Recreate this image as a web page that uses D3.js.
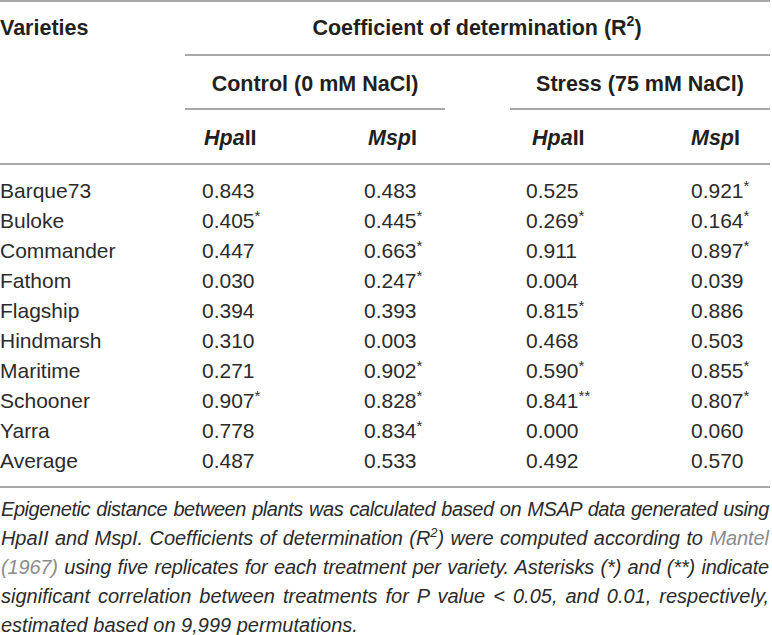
<!doctype html>
<html>
  <head>
    <meta charset="utf-8">
    <script src="https://cdn.jsdelivr.net/npm/d3@7"></script>
    <style>
      body { margin: 0; background: #fff; }
      svg { display: block; }
      .rule { stroke: #a8a8a8; stroke-width: 1.5; shape-rendering: crispEdges; }
      .head { font-family: "Liberation Sans", Arial, sans-serif; font-weight: bold; font-size: 21.5px; fill: #231f20; }
      .cell { font-family: "Liberation Sans", Arial, sans-serif; font-size: 21px; fill: #2b2b2b; }
      .note { font-family: "Liberation Sans", Arial, sans-serif; font-style: italic; font-size: 20px; fill: #2b2b2b; }
    </style>
  </head>
  <body>
    <script>
    // table data
    var varieties = ['Barque73', 'Buloke', 'Commander', 'Fathom', 'Flagship',
                     'Hindmarsh', 'Maritime', 'Schooner', 'Yarra', 'Average'];

    var controlHpa = [0.843, 0.405, 0.447, 0.030, 0.394, 0.310, 0.271, 0.907, 0.778, 0.487];
    var controlHpaSig = ['', '*', '', '', '', '', '', '*', '', ''];

    var controlMsp = [0.483, 0.445, 0.663, 0.247, 0.393, 0.003, 0.902, 0.828, 0.834, 0.533];
    var controlMspSig = ['', '*', '*', '*', '', '', '*', '*', '*', ''];

    var stressHpa = [0.525, 0.269, 0.911, 0.004, 0.815, 0.468, 0.590, 0.841, 0.000, 0.492];
    var stressHpaSig = ['', '*', '', '', '*', '', '*', '**', '', ''];

    var stressMsp = [0.921, 0.164, 0.897, 0.039, 0.886, 0.503, 0.855, 0.807, 0.060, 0.570];
    var stressMspSig = ['*', '*', '*', '', '', '', '*', '*', '', ''];

    var enzymes = ['Hpa', 'Msp'];
    var enzymeSuffix = ['II', 'I'];
    var treatments = ['Control (0 mM NaCl)', 'Stress (75 mM NaCl)'];

    var width = 772;
    var height = 635;

    var svg = d3.select('body')
              .append('svg')
              .attr('width', width)
              .attr('height', height);

    var fmt = d3.format('.3f');

    var columns = [
      {key: 'ch', values: controlHpa, sig: controlHpaSig},
      {key: 'cm', values: controlMsp, sig: controlMspSig},
      {key: 'sh', values: stressHpa, sig: stressHpaSig},
      {key: 'sm', values: stressMsp, sig: stressMspSig}
    ];

    // column and row positions
    var x = d3.scaleOrdinal()
              .domain(['ch', 'cm', 'sh', 'sm'])
              .range([202, 364, 526, 691]);

    var xHead = d3.scaleOrdinal()
              .domain(['ch', 'cm', 'sh', 'sm'])
              .range([204, 368, 532, 691]);

    var y = d3.scaleLinear()
              .domain([0, varieties.length - 1])
              .range([198, 468]);

    // rules
    var rules = [
      {x1: 0, x2: 770, y: 1},
      {x1: 185, x2: 770, y: 55},
      {x1: 185, x2: 445, y: 109},
      {x1: 510, x2: 770, y: 109},
      {x1: 0, x2: 770, y: 164},
      {x1: 0, x2: 770, y: 487}
    ];

    svg.selectAll('.rule')
       .data(rules)
       .enter()
       .append('line')
       .attr('class', 'rule')
       .attr('x1', function(d) { return d.x1; })
       .attr('x2', function(d) { return d.x2; })
       .attr('y1', function(d) { return d.y; })
       .attr('y2', function(d) { return d.y; });

    // header
    svg.append('text')
       .attr('class', 'head')
       .attr('x', 0)
       .attr('y', 35)
       .text('Varieties');

    var coef = svg.append('text')
       .attr('class', 'head')
       .attr('x', 477)
       .attr('y', 35)
       .attr('text-anchor', 'middle');
    coef.append('tspan').text('Coefficient of determination (R');
    coef.append('tspan').attr('font-size', 14).attr('dy', -9).text('2');
    coef.append('tspan').attr('dy', 9).text(')');

    svg.selectAll('.treat')
       .data(treatments)
       .enter()
       .append('text')
       .attr('class', 'head treat')
       .attr('x', function(d, i) { return i === 0 ? 315 : 640; })
       .attr('y', 91)
       .attr('text-anchor', 'middle')
       .text(function(d) { return d; });

    var enz = svg.selectAll('.enz')
       .data(columns)
       .enter()
       .append('text')
       .attr('class', 'head enz')
       .attr('x', function(d) { return xHead(d.key); })
       .attr('y', 145);
    enz.append('tspan')
       .attr('font-style', 'italic')
       .text(function(d, i) { return enzymes[i % 2]; });
    enz.append('tspan')
       .text(function(d, i) { return enzymeSuffix[i % 2]; });

    // body rows
    svg.selectAll('.variety')
       .data(varieties)
       .enter()
       .append('text')
       .attr('class', 'cell variety')
       .attr('x', 0)
       .attr('y', function(d, i) { return y(i); })
       .text(function(d) { return d; });

    columns.forEach(function(col) {
      var cells = svg.selectAll('.v-' + col.key)
         .data(col.values)
         .enter()
         .append('text')
         .attr('class', 'cell v-' + col.key)
         .attr('x', x(col.key))
         .attr('y', function(d, i) { return y(i); });
      cells.append('tspan')
         .text(function(d) { return fmt(d); });
      cells.append('tspan')
         .attr('font-size', 15)
         .attr('dy', -7)
         .text(function(d, i) { return col.sig[i]; });
    });

    // footnote, justified lines
    var noteLines = [
      [{t: 'Epigenetic distance between plants was calculated based on MSAP data generated using'}],
      [{t: 'HpaII and MspI. Coefficients of determination (R'}, {t: '2', sup: true}, {t: ') were computed according to ', down: true}, {t: 'Mantel', link: true}],
      [{t: '(1967)', link: true}, {t: ' using five replicates for each treatment per variety. Asterisks (*) and (**) indicate'}],
      [{t: 'significant correlation between treatments for P value < 0.05, and 0.01, respectively,'}],
      [{t: 'estimated based on 9,999 permutations.'}]
    ];

    var noteY = d3.scaleLinear().domain([0, 4]).range([516, 632]);
    var noteWidth = 768;

    noteLines.forEach(function(parts, i) {
      var line = svg.append('text')
         .attr('class', 'note')
         .attr('x', 1)
         .attr('y', noteY(i));
      parts.forEach(function(p) {
        var ts = line.append('tspan').text(p.t);
        if (p.sup) ts.attr('font-size', 13).attr('dy', -8);
        if (p.down) ts.attr('dy', 8);
        if (p.link) ts.style('fill', '#8c8c8c');
      });
      if (i < noteLines.length - 1) {
        var full = parts.map(function(p) { return p.t; }).join('');
        var spaces = full.split(' ').length - 1;
        var natural = line.node().getComputedTextLength();
        if (natural > noteWidth - spaces) {
          // tighten letters a little so that words can still be spread out
          line.attr('letter-spacing', (noteWidth - spaces - natural) / full.length);
          natural = line.node().getComputedTextLength();
        }
        line.attr('word-spacing', Math.max(0, (noteWidth - natural) / spaces));
      }
    });
    </script>
  </body>
</html>
